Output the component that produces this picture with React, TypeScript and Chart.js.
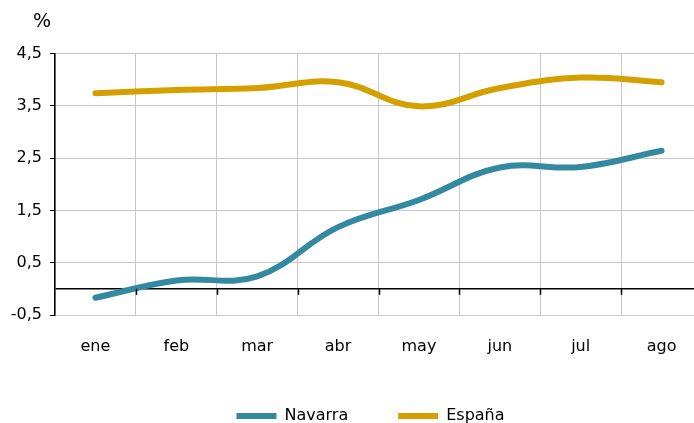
import React, { useEffect, useRef } from "react";
import { Chart, registerables } from "chart.js";

Chart.register(...registerables);

const categories = ["ene", "feb", "mar", "abr", "may", "jun", "jul", "ago"];
const navarra = [-0.17, 0.16, 0.24, 1.18, 1.7, 2.32, 2.33, 2.64];
const espana = [3.74, 3.8, 3.84, 3.95, 3.49, 3.84, 4.04, 3.95];
const yTickValues = [-0.5, 0, 0.5, 1.5, 2.5, 3.5, 4.5];
const unitLabel = "%";

const FONT = "'DejaVu Sans', sans-serif";

export default function App() {
  const ref = useRef<HTMLCanvasElement | null>(null);

  useEffect(() => {
    if (!ref.current) return;
    document.body.style.margin = "0";
    document.body.style.overflow = "hidden";

    const extras = {
      id: "extras",
      afterLayout(chart: any) {
        const lg = chart.legend;
        if (lg) {
          lg.left += 19.5;
          lg.right += 19.5;
        }
      },
      afterDraw(chart: any) {
        const ctx = chart.ctx;
        const y = chart.scales.y;
        const x = chart.scales.x;
        ctx.save();
        ctx.fillStyle = "#000";
        ctx.font = "19px " + FONT;
        ctx.textAlign = "center";
        ctx.textBaseline = "middle";
        ctx.fillText(unitLabel, y.right - 13, chart.chartArea.top - 31);
        const y0 = y.getPixelForValue(0);
        ctx.strokeStyle = "#000";
        ctx.lineWidth = 1.5;
        for (let i = 1; i < categories.length; i++) {
          const px = (x.getPixelForValue(i - 1) + x.getPixelForValue(i)) / 2;
          ctx.beginPath();
          ctx.moveTo(Math.round(px) + 0.5, y0);
          ctx.lineTo(Math.round(px) + 0.5, y0 + 6);
          ctx.stroke();
        }
        ctx.restore();
      },
    };

    const chart = new Chart(ref.current, {
      type: "line",
      data: {
        labels: categories,
        datasets: [
          {
            label: "Navarra",
            data: navarra,
            borderColor: "#338AA0",
            backgroundColor: "#338AA0",
            borderWidth: 6,
            borderCapStyle: "round",
            pointRadius: 0,
            tension: 0.4,
            fill: false,
          },
          {
            label: "España",
            data: espana,
            borderColor: "#D4A000",
            backgroundColor: "#D4A000",
            borderWidth: 6,
            borderCapStyle: "round",
            pointRadius: 0,
            tension: 0.4,
            fill: false,
          },
        ],
      },
      plugins: [extras],
      options: {
        animation: false,
        responsive: false,
        maintainAspectRatio: false,
        layout: { padding: { top: 53.5, right: 37, left: 0, bottom: 0 } },
        plugins: {
          title: { display: false },
          tooltip: { enabled: false },
          legend: {
            position: "bottom",
            labels: {
              usePointStyle: true,
              pointStyle: "line",
              pointStyleWidth: 40,
              boxHeight: 6,
              padding: 50,
              color: "#000",
              font: { family: FONT, size: 16 },
            },
          },
        },
        scales: {
          x: {
            offset: true,
            grid: {
              offset: true,
              color: "#c8c8c8",
              lineWidth: 1,
              drawTicks: false,
            },
            border: { display: false },
            ticks: {
              color: "#000",
              font: { family: FONT, size: 16 },
              padding: 22,
              maxRotation: 0,
            },
            afterFit(scale: any) {
              scale.height = 43;
            },
          },
          y: {
            min: -0.5,
            max: 4.5,
            afterBuildTicks(scale: any) {
              scale.ticks = yTickValues.map((v) => ({ value: v }));
            },
            grid: {
              color: (c: any) => (c.tick && c.tick.value === 0 ? "#000" : "#c8c8c8"),
              lineWidth: (c: any) => (c.tick && c.tick.value === 0 ? 1.5 : 1),
              tickColor: (c: any) => (c.tick && c.tick.value === 0 ? "rgba(0,0,0,0)" : "#000"),
              tickLength: 5,
            },
            border: { display: true, color: "#000", width: 1.5 },
            ticks: {
              color: "#000",
              font: { family: FONT, size: 16 },
              padding: 8,
              callback: (v: any) => (Number(v) === 0 ? "" : String(v).replace(".", ",")),
            },
            afterFit(scale: any) {
              scale.width = 55;
            },
          },
        },
      },
    } as any);

    return () => chart.destroy();
  }, []);

  return (
    <div style={{ position: "fixed", left: 0, top: 0, width: 694, height: 423, overflow: "hidden", background: "#fff" }}>
      <canvas ref={ref} width={739} height={434} style={{ display: "block", width: 739, height: 434 }} />
    </div>
  );
}
